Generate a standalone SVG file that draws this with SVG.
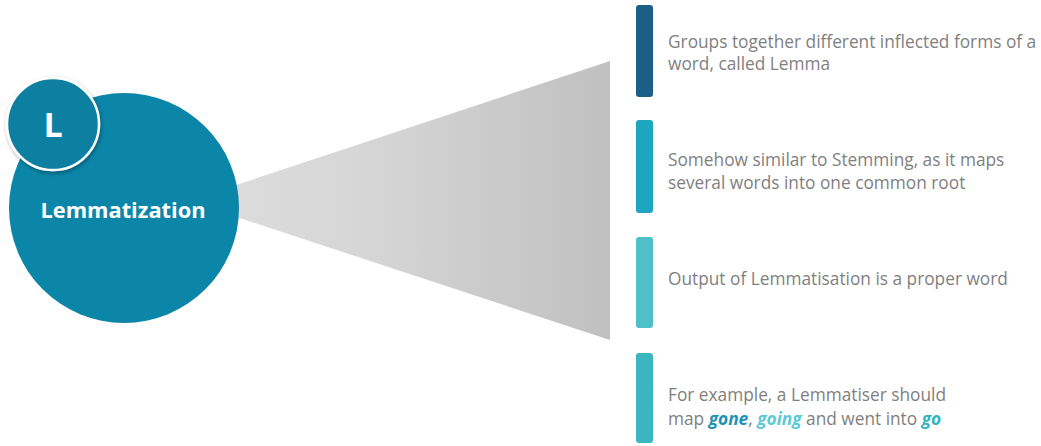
<svg xmlns="http://www.w3.org/2000/svg" width="1041" height="446" viewBox="0 0 1041 446">
<defs>
<linearGradient id="fan" x1="0" y1="0" x2="1" y2="0">
<stop offset="0" stop-color="#dddddd"/>
<stop offset="0.4" stop-color="#d6d6d6"/>
<stop offset="1" stop-color="#c0c0c0"/>
</linearGradient>
<filter id="sh" x="-20%" y="-20%" width="140%" height="140%">
<feGaussianBlur in="SourceAlpha" stdDeviation="2"/>
<feOffset dx="1" dy="2" result="b"/>
<feComponentTransfer><feFuncA type="linear" slope="0.35"/></feComponentTransfer>
<feMerge><feMergeNode/><feMergeNode in="SourceGraphic"/></feMerge>
</filter>
</defs>
<style>
.t{font-family:"Open Sans","Liberation Sans",sans-serif;font-size:17.3px;fill:#7f7f7f}
.w{font-family:"Open Sans","Liberation Sans",sans-serif;font-weight:bold;fill:#ffffff}
.e{font-weight:bold;font-style:italic}
</style>
<rect width="1041" height="446" fill="#ffffff"/>
<g id="connectors">
<polygon points="200,197 610,61 610,340 200,205" fill="url(#fan)"/>
</g>
<g id="main">
<circle cx="124" cy="208" r="115" fill="#0b86a8"/>
<text class="w" x="123" y="218" font-size="21.8" text-anchor="middle">Lemmatization</text>
</g>
<g id="badge">
<circle cx="53" cy="124" r="46" fill="#0b80a2" stroke="#ffffff" stroke-width="2.5" filter="url(#sh)"/>
<text class="w" x="53" y="137" font-size="34" text-anchor="middle">L</text>
</g>
<g id="item1">
<rect x="636" y="5" width="17" height="92" rx="3" fill="#1b5f88"/>
<text class="t" x="668" y="48">Groups together different inflected forms of a</text>
<text class="t" x="668" y="70">word, called Lemma</text>
</g>
<g id="item2">
<rect x="636" y="120" width="17" height="93" rx="3" fill="#1ea5bf"/>
<text class="t" x="668" y="166">Somehow similar to Stemming, as it maps</text>
<text class="t" x="668" y="189">several words into one common root</text>
</g>
<g id="item3">
<rect x="636" y="237" width="17" height="91" rx="3" fill="#4fc0ca"/>
<text class="t" x="668" y="285">Output of Lemmatisation is a proper word</text>
</g>
<g id="item4">
<rect x="636" y="353" width="17" height="90" rx="3" fill="#3bb6c1"/>
<text class="t" x="668" y="401">For example, a Lemmatiser should</text>
<text class="t" x="668" y="425">map <tspan class="e" fill="#1a92b3">gone</tspan>, <tspan class="e" fill="#5ccad6">going</tspan> and went into <tspan class="e" fill="#35b3c0">go</tspan></text>
</g>
</svg>
